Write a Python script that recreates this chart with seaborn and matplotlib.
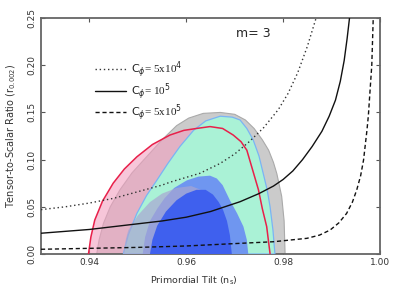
import numpy as np
import pandas as pd
import matplotlib
matplotlib.use("Agg")
import matplotlib.pyplot as plt
import seaborn as sns

# ── Data ─────────────────────────────────────────────────────────────────────
# 95% region, grey data set
gray_x = [0.9415, 0.9420, 0.9429, 0.9443, 0.9463, 0.9488, 0.9518, 0.9550, 0.9580,
          0.9605, 0.9635, 0.9670, 0.9700, 0.9722, 0.9740, 0.9757, 0.9770, 0.9780,
          0.9787, 0.9797, 0.9802, 0.9804]
gray_y = [0.0, 0.015, 0.0325, 0.050, 0.068, 0.086, 0.103, 0.121, 0.136,
          0.144, 0.149, 0.150, 0.148, 0.142, 0.133, 0.121, 0.110, 0.097,
          0.085, 0.061, 0.035, 0.0]
# 95% region, pink / red data set
pink_x = [0.9398, 0.9403, 0.9411, 0.9427, 0.9449, 0.9472, 0.9498, 0.9530, 0.9566,
          0.9595, 0.9621, 0.9649, 0.9675, 0.9697, 0.9713, 0.9725, 0.9735, 0.9749,
          0.9757, 0.9766, 0.9773]
pink_y = [0.0, 0.018, 0.036, 0.056, 0.075, 0.090, 0.103, 0.116, 0.126,
          0.131, 0.133, 0.135, 0.133, 0.126, 0.119, 0.110, 0.0925, 0.068,
          0.048, 0.029, 0.0]
# 95% region, green data set
green_x = [0.9470, 0.9480, 0.9498, 0.9518, 0.9539, 0.9562, 0.9587, 0.9615, 0.9640,
           0.9670, 0.9695, 0.9711, 0.9725, 0.9738, 0.9750, 0.9759, 0.9767, 0.9773,
           0.9779, 0.9783]
green_y = [0.0, 0.020, 0.043, 0.062, 0.078, 0.096, 0.114, 0.131, 0.141,
           0.146, 0.145, 0.142, 0.133, 0.121, 0.104, 0.085, 0.068, 0.050,
           0.025, 0.0]
# 68% regions
mid_x = [0.9510, 0.9515, 0.9525, 0.9540, 0.9555, 0.9575, 0.9601, 0.9625, 0.9649,
         0.9663, 0.9675, 0.9690, 0.9705, 0.9718, 0.9725, 0.9728]
mid_y = [0.0, 0.018, 0.035, 0.048, 0.059, 0.070, 0.078, 0.082, 0.083,
         0.080, 0.073, 0.057, 0.043, 0.029, 0.015, 0.0]
lav_x = [0.9470, 0.9475, 0.9480, 0.9500, 0.9525, 0.9550, 0.9580, 0.9610, 0.9630,
         0.9640, 0.9640]
lav_y = [0.0, 0.015, 0.025, 0.041, 0.055, 0.064, 0.070, 0.072, 0.068, 0.050, 0.0]
core_x = [0.9525, 0.9530, 0.9540, 0.9558, 0.9580, 0.9600, 0.9621, 0.9640, 0.9655,
          0.9667, 0.9676, 0.9684, 0.9690, 0.9694]
core_y = [0.0, 0.015, 0.030, 0.045, 0.057, 0.064, 0.068, 0.068, 0.063,
          0.055, 0.0466, 0.035, 0.020, 0.0]

# model curves for three values of C_phi
c4_x = [0.93, 0.935, 0.94, 0.945, 0.95, 0.955, 0.9566, 0.9628, 0.967, 0.970,
        0.973, 0.976, 0.979, 0.981, 0.983, 0.985, 0.9868]
c4_y = [0.047, 0.050, 0.054, 0.059, 0.066, 0.073, 0.076, 0.0855, 0.096, 0.106,
        0.119, 0.134, 0.153, 0.170, 0.192, 0.220, 0.25]
c5_x = [0.93, 0.935, 0.94, 0.945, 0.95, 0.955, 0.96, 0.965, 0.9711, 0.975,
        0.978, 0.980, 0.982, 0.984, 0.986, 0.988, 0.9895, 0.9908, 0.9918,
        0.9926, 0.9932, 0.9937]
c5_y = [0.022, 0.024, 0.026, 0.029, 0.032, 0.035, 0.039, 0.045, 0.0554, 0.064,
        0.072, 0.079, 0.088, 0.100, 0.114, 0.130, 0.146, 0.163, 0.183,
        0.205, 0.228, 0.25]
c55_x = [0.93, 0.94, 0.95, 0.96, 0.9711, 0.978, 0.9849, 0.9875, 0.9897, 0.9915,
         0.9931, 0.9943, 0.9952, 0.9960, 0.9966, 0.9973, 0.9976, 0.9979, 0.9983, 0.9986]
c55_y = [0.005, 0.006, 0.007, 0.0085, 0.0113, 0.013, 0.0166, 0.020, 0.0254, 0.033,
         0.043, 0.055, 0.068, 0.083, 0.0996, 0.131, 0.147, 0.170, 0.200, 0.25]

curve_labels = [r"$\mathrm{C}_{\phi}$= 5x10$^{4}$",
                r"$\mathrm{C}_{\phi}$= 10$^{5}$",
                r"$\mathrm{C}_{\phi}$= 5x10$^{5}$"]

x_ticks = [0.94, 0.96, 0.98, 1.00]
y_ticks = [0.00, 0.05, 0.10, 0.15, 0.20, 0.25]

# ── Plot ─────────────────────────────────────────────────────────────────────
sns.set_style("ticks")
plt.rcParams["font.family"] = ["DejaVu Sans"]

fig = plt.figure(figsize=(4.15, 2.96), dpi=100)
ax = fig.add_axes([0.0988, 0.1419, 0.8169, 0.7971])

ax.fill(gray_x, gray_y, facecolor="#cbcbcb", edgecolor="#aaaaaa", lw=0.8, zorder=1)
ax.fill(pink_x, pink_y, facecolor="#f2a0c0", alpha=0.6, edgecolor="none", zorder=2)
ax.fill(green_x, green_y, facecolor="#aaf2d6", edgecolor="#7ab4f5", lw=0.9, zorder=3)
ax.fill(mid_x, mid_y, facecolor="#6f96f0", edgecolor="none", zorder=4)
ax.fill(lav_x, lav_y, facecolor="#a9a6d2", alpha=0.7, edgecolor="none", zorder=5)
ax.fill(core_x, core_y, facecolor="#3f60ee", edgecolor="none", zorder=6)
ax.plot(pink_x, pink_y, color="#e8204a", lw=1.1, zorder=7)

curves = pd.concat([
    pd.DataFrame({"ns": c4_x, "r": c4_y, "model": curve_labels[0]}),
    pd.DataFrame({"ns": c5_x, "r": c5_y, "model": curve_labels[1]}),
    pd.DataFrame({"ns": c55_x, "r": c55_y, "model": curve_labels[2]}),
])
styles = {curve_labels[0]: (1, 2), curve_labels[1]: "", curve_labels[2]: (3, 2)}
sns.lineplot(data=curves, x="ns", y="r", hue="model", style="model",
             palette=["#333333", "#111111", "#111111"], dashes=styles,
             sort=False, estimator=None, lw=1.0, ax=ax, zorder=8)

ax.set_xlim(0.93, 1.00)
ax.set_ylim(0.0, 0.25)
ax.set_xticks(x_ticks)
ax.set_xticklabels([f"{t:.2f}" for t in x_ticks])
ax.set_yticks(y_ticks)
ax.set_yticklabels([f"{t:.2f}" for t in y_ticks], rotation=90, va="center")
ax.tick_params(direction="in", top=True, right=True, length=3, width=0.8,
               labelsize=6.5, labelcolor="#333333", color="#555555", pad=3)

for s in ax.spines.values():
    s.set_color("#666666")
    s.set_linewidth(1.3)

ax.set_xlabel(r"Primordial Tilt (n$_{\mathrm{s}}$)", fontsize=6.8, color="#333333")
ax.xaxis.set_label_coords(0.45, -0.085)
ax.set_ylabel(r"Tensor-to-Scalar Ratio (r$_{0.002}$)", fontsize=7, color="#333333")
ax.yaxis.set_label_coords(-0.068, 0.5)

ax.text(0.575, 0.935, "m= 3", transform=ax.transAxes, fontsize=9, ha="left", va="center")

leg = ax.legend(loc="center left", bbox_to_anchor=(0.13, 0.69), frameon=False,
                handlelength=2.8, handletextpad=0.4, labelspacing=0.05,
                prop={"family": "Liberation Serif", "size": 8})
for txt in leg.get_texts():
    txt.set_color("#222222")

fig.savefig("out.png", dpi=100)
